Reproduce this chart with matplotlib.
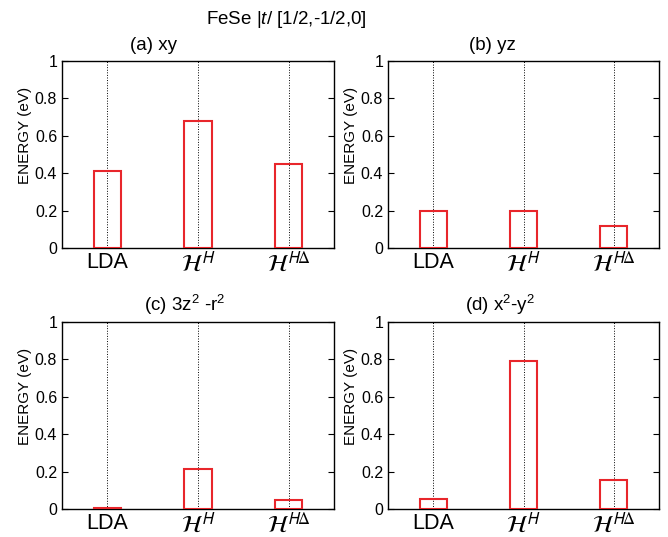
import matplotlib
matplotlib.use("Agg")
import matplotlib.pyplot as plt

plt.rcParams['font.family'] = ['Liberation Sans', 'DejaVu Sans']
plt.rcParams['mathtext.fontset'] = 'custom'
plt.rcParams['mathtext.rm'] = 'Liberation Sans'
plt.rcParams['mathtext.it'] = 'Liberation Sans:italic'
plt.rcParams['mathtext.sf'] = 'Liberation Sans'

categories = ['LDA', r'$\mathcal{H}^{\mathsf{H}}$', r'$\mathcal{H}^{\mathsf{H}\Delta}$']
panel_titles = ['(a) xy', '(b) yz', r'(c) 3z$^2$ -r$^2$', r'(d) x$^2$-y$^2$']
values_xy = [0.41, 0.68, 0.45]
values_yz = [0.20, 0.20, 0.115]
values_3z2r2 = [0.005, 0.215, 0.05]
values_x2y2 = [0.055, 0.79, 0.155]
yticks = [0, 0.2, 0.4, 0.6, 0.8, 1]
ytick_labels = ['0', '0.2', '0.4', '0.6', '0.8', '1']
suptitle = r'FeSe |$t$/ [1/2,-1/2,0]'

W, H = 668, 537
fig = plt.figure(figsize=(W/100, H/100), dpi=100)

# axes rects in pixels: (left, top, right, bottom)
rects = [(62, 61, 334, 248), (388, 61, 659, 248),
         (62, 322, 334, 509), (388, 322, 659, 509)]
title_centers = [(153, 45), (492, 45), (185, 305), (500, 305)]
ylabel_x = [32, 358, 32, 358]
all_vals = [values_xy, values_yz, values_3z2r2, values_x2y2]

for (l, t, r, b), vals, ttl, (tcx, tcy), ylx in zip(rects, all_vals, panel_titles, title_centers, ylabel_x):
    ax = fig.add_axes([l/W, 1 - b/H, (r-l)/W, (b-t)/H])
    x = [1, 2, 3]
    ax.bar(x, vals, width=0.3, facecolor='none', edgecolor='#e8262b', linewidth=1.5, zorder=3)
    ax.set_xlim(0.5, 3.5)
    ax.set_ylim(0, 1)
    ax.set_xticks(x)
    ax.set_xticklabels(categories, fontsize=15.5)
    for lab in ax.get_xticklabels()[1:]:
        lab.set_math_fontfamily('stix')
        lab.set_fontsize(17)
    ax.set_yticks(yticks)
    ax.set_yticklabels(ytick_labels, fontsize=11.5)
    ax.tick_params(axis='x', length=0, pad=3)
    ax.tick_params(axis='y', direction='in', length=4, right=True, width=0.8)
    ax.xaxis.grid(True, linestyle=':', color='black', linewidth=0.7)
    ax.set_axisbelow(True)
    for s in ax.spines.values():
        s.set_linewidth(1.0)
    ax.set_ylabel('ENERGY (eV)', fontsize=11)
    ax.yaxis.set_label_coords((ylx - l) / (r - l), 0.6)
    fig.text(tcx/W, 1 - tcy/H, ttl, fontsize=13.5, ha='center', va='center')

fig.text(286/W, 1 - 20/H, suptitle, fontsize=13.5, ha='center', va='center')

fig.savefig('out.png', dpi=100)
